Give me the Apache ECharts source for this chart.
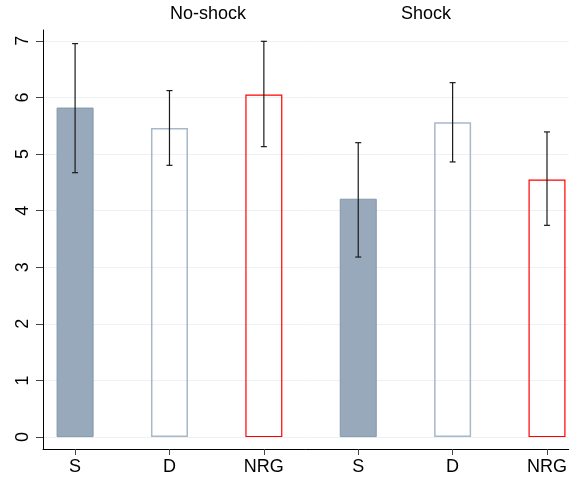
<!DOCTYPE html>
<html><head><meta charset="utf-8">
<script src="https://cdn.jsdelivr.net/npm/echarts@6/dist/echarts.min.js"></script>
<style>html,body{margin:0;padding:0;background:#fff}#c{width:570px;height:478px}</style>
</head><body><div id="c"></div>
<script>
const categories = ['S','D','NRG','S','D','NRG'];
const groupTitles = ['No-shock','Shock'];
const means = [5.82, 5.46, 6.05, 4.21, 5.56, 4.55];
const upper = [6.95, 6.12, 6.99, 5.20, 6.26, 5.39];
const lower = [4.67, 4.80, 5.13, 3.18, 4.86, 3.74];
const yTicks = [0,1,2,3,4,5,6,7];
const xPos = categories.map((c,i)=>i);

const FONT = 'Liberation Sans, Arial, sans-serif';
function seriesFor(label){
  return xPos.filter(i=>categories[i]===label).map(i=>[i, means[i]]);
}
const chart = echarts.init(document.getElementById('c'));
chart.setOption({
  animation:false,
  backgroundColor:'#fff',
  grid:{left:43,right:0,top:30,bottom:29,containLabel:false},
  xAxis:{type:'value',min:-0.34,max:5.23,
    axisLine:{show:true,onZero:false,lineStyle:{color:'#000',width:1}},
    axisTick:{show:true,length:6,lineStyle:{color:'#444'},customValues:xPos},
    axisLabel:{customValues:xPos,formatter:v=>categories[Math.round(v)],color:'#000',fontSize:18,fontFamily:FONT,margin:9},
    splitLine:{show:false}},
  yAxis:{type:'value',min:-0.21,max:7.19,
    axisLine:{show:true,onZero:false,lineStyle:{color:'#000',width:1}},
    axisTick:{show:true,length:7,lineStyle:{color:'#444'},customValues:yTicks},
    axisLabel:{customValues:yTicks,rotate:90,color:'#000',fontSize:18,fontFamily:FONT,margin:11},
    splitLine:{show:true,lineStyle:{color:'#eaf2f3',width:1}}},
  graphic:[
    {type:'text',x:208,y:14,style:{text:groupTitles[0],fill:'#000',font:'18px '+FONT,textAlign:'center',textVerticalAlign:'middle'}},
    {type:'text',x:426,y:14,style:{text:groupTitles[1],fill:'#000',font:'18px '+FONT,textAlign:'center',textVerticalAlign:'middle'}}
  ],
  series:[
    {type:'bar',name:'S',data:seriesFor('S'),barWidth:37,barGap:'-100%',
      itemStyle:{color:'#97a9bb',borderColor:'#8497ab',borderWidth:1}},
    {type:'bar',name:'D',data:seriesFor('D'),barWidth:37,barGap:'-100%',
      itemStyle:{color:'rgba(0,0,0,0)',borderColor:'#a8b8c8',borderWidth:1.5}},
    {type:'bar',name:'NRG',data:seriesFor('NRG'),barWidth:37,barGap:'-100%',
      itemStyle:{color:'rgba(0,0,0,0)',borderColor:'#ff0000',borderWidth:1.2}},
    {type:'custom',name:'ci',z:10,
      data:xPos.map(i=>[i,lower[i],upper[i]]),
      renderItem:function(params,api){
        const x=api.value(0);
        const lo=api.coord([x,api.value(1)]);
        const hi=api.coord([x,api.value(2)]);
        const hw=3;
        const st={stroke:'#1a1a1a',lineWidth:1.2};
        return {type:'group',children:[
          {type:'line',shape:{x1:hi[0],y1:hi[1],x2:lo[0],y2:lo[1]},style:st},
          {type:'line',shape:{x1:hi[0]-hw,y1:hi[1],x2:hi[0]+hw,y2:hi[1]},style:st},
          {type:'line',shape:{x1:lo[0]-hw,y1:lo[1],x2:lo[0]+hw,y2:lo[1]},style:st}
        ]};
      }}
  ]
});
</script></body></html>
